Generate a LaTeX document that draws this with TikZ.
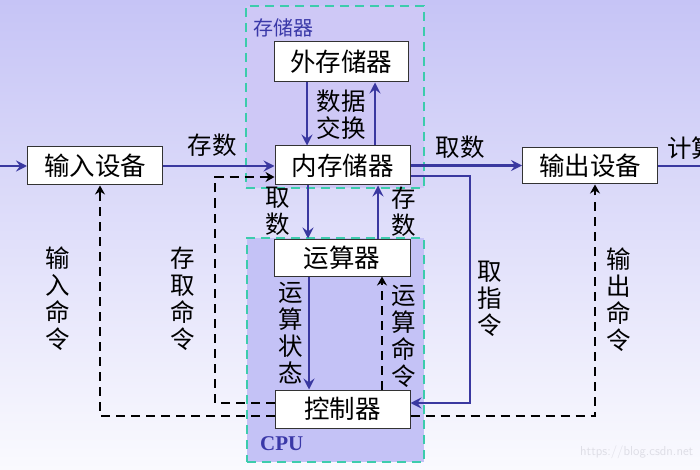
\documentclass[tikz,border=0pt]{standalone}
\usepackage{fontspec}
\newfontfamily\cjk{Noto Sans CJK SC}
\newfontfamily\serifb{Liberation Serif}
\usetikzlibrary{arrows.meta,calc}
\definecolor{bgtop}{RGB}{198,196,246}
\definecolor{bgbot}{RGB}{250,250,254}
\definecolor{navy}{RGB}{58,56,160}
\definecolor{teal}{RGB}{60,204,172}
\definecolor{cpufill}{RGB}{196,194,246}
\definecolor{memfill}{RGB}{206,200,246}
\definecolor{lblblue}{RGB}{58,56,168}
\tikzset{
  box/.style={draw=black!80, line width=1pt, fill=white, minimum width=135pt, minimum height=38pt, inner sep=0pt, font=\cjk\fontsize{25.5}{28}\selectfont},
  sol/.style={draw=navy, line width=2.4pt, -{Stealth[length=11pt,width=11pt,inset=4pt]}},
  dsh/.style={draw=black, line width=2.8pt, dash pattern=on 9pt off 6pt, -{Stealth[length=9pt,width=10pt,inset=3pt]}},
  grp/.style={draw=teal, line width=2.8pt, dash pattern=on 9pt off 6pt},
  lbl/.style={font=\cjk\fontsize{24.5}{27}\selectfont, align=center, inner sep=0pt},
}
\begin{document}
\begin{tikzpicture}[x=1pt,y=-1pt]
\useasboundingbox (0,0) rectangle (700,470);
\begin{scope}
\clip (0,0) rectangle (700,470);
\shade[top color=bgtop, bottom color=bgbot] (0,0) rectangle (700,470);
% groups
\node[grp, fill=memfill, minimum width=178pt, minimum height=182pt, inner sep=0pt] (memgrp) at (335,97) {};
\node[grp, fill=cpufill, minimum width=177pt, minimum height=224pt, inner sep=0pt] (cpugrp) at (335.5,350) {};
\node[anchor=west, inner sep=0pt, text=lblblue, font=\cjk\fontsize{20}{22}\selectfont] (memlbl) at (253,28) {存储器};
\node[anchor=west, inner sep=0pt, text=lblblue, font=\serifb\bfseries\fontsize{21}{24}\selectfont] (cpulbl) at (260,444) {CPU};
% boxes
\node[box] (in) at (95,166) {输入设备};
\node[box, minimum height=39pt] (mem) at (342.5,165.5) {内存储器};
\node[box, minimum width=134pt, minimum height=40pt] (ext) at (341,62) {外存储器};
\node[box, minimum height=36pt] (out) at (590,166) {输出设备};
\node[box, minimum width=136pt, minimum height=37pt] (alu) at (342,257.5) {运算器};
\node[box] (ctl) at (342.5,409) {控制器};
% helper coordinates
\coordinate (lin) at (0,166);
\coordinate (rout) at (700,166);
\coordinate (xa) at (307,0);
\coordinate (xb) at (375,0);
\coordinate (xc) at (308,0);
\coordinate (xd) at (378,0);
\coordinate (xe) at (309,0);
\coordinate (xf) at (382,0);
\coordinate (c1) at (470,176);
\coordinate (c2) at (470,403);
\coordinate (d1) at (595,416);
\coordinate (d2) at (100,416);
\coordinate (e1) at (215,403);
\coordinate (e2) at (215,177);
% solid connectors
\draw[sol] (lin) -- (in.west);
\draw[sol] (in.east) -- (mem.west |- in.east);
\draw[sol] (mem.east) -- (out.west |- mem.east);
\draw[sol,-] (out.east) -- (rout);
\draw[sol] (ext.south -| xa) -- (mem.north -| xa);
\draw[sol] (mem.north -| xb) -- (ext.south -| xb);
\draw[sol] (mem.south -| xc) -- (alu.north -| xc);
\draw[sol] (alu.north -| xd) -- (mem.south -| xd);
\draw[sol] (alu.south -| xe) -- (ctl.north -| xe);
\draw[sol] (c1 -| mem.east) -- (c1) -- (c2) -- (c2 -| ctl.east);
% dashed connectors
\draw[dsh] (ctl.north -| xf) -- (alu.south -| xf);
\draw[dsh] (d1 -| ctl.east) -- (d1) -- (out.south -| d1);
\draw[dsh] (d2 -| ctl.west) -- (d2) -- (in.south -| d2);
\draw[dsh] (e1 -| ctl.west) -- (e1) -- (e2) -- (e2 -| mem.west);
% labels
\node[lbl] (l1) at (212,145) {存数};
\node[lbl] (l2) at (460,147) {取数};
\node[lbl, anchor=west] (l3) at (667,148) {计算结果};
\node[lbl] (l4) at (341,115) {数据\\交换};
\node[lbl] (l5) at (278,211) {取\\数};
\node[lbl] (l6) at (404,212) {存\\数};
\node[lbl] (l7) at (291,333) {运\\算\\状\\态};
\node[lbl] (l8) at (404,336) {运\\算\\命\\令};
\node[lbl] (l9) at (490,299) {取\\指\\令};
\node[lbl] (l10) at (619,300) {输\\出\\命\\令};
\node[lbl] (l11) at (58,299) {输\\入\\命\\令};
\node[lbl] (l12) at (183,299) {存\\取\\命\\令};
\node[anchor=west, inner sep=0pt, text={rgb,255:red,222;green,222;blue,230}, font=\sffamily\fontsize{13}{15}\selectfont] (wm) at (580,452) {https://blog.csdn.net};
\end{scope}
\end{tikzpicture}
\end{document}
